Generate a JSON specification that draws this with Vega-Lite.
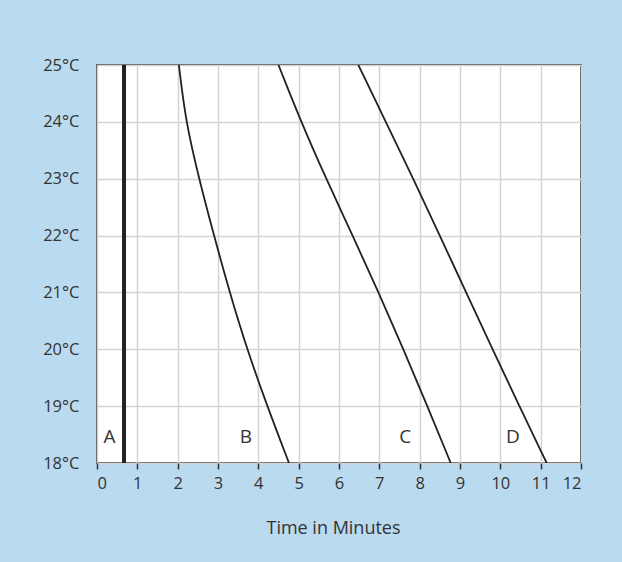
{
  "$schema": "https://vega.github.io/schema/vega-lite/v6.json",
  "width": 484,
  "height": 398,
  "autosize": {"type": "none"},
  "padding": {"left": 97, "top": 65, "right": 41, "bottom": 99},
  "background": "#badaf0",
  "config": {
    "font": "Open Sans",
    "view": {"fill": "white", "stroke": "#2a2a2a", "strokeWidth": 1.6},
    "axis": {"labelFont": "Open Sans", "titleFont": "Open Sans", "labelColor": "#333", "titleColor": "#333", "gridColor": "#d3d3d3", "gridWidth": 1.5, "domain": false}
  },
  "datasets": {
    "curves": [
      {"series": "A", "t": 0.67, "temp": 25},
      {"series": "A", "t": 0.67, "temp": 18},
      {"series": "B", "t": 2.03, "temp": 25},
      {"series": "B", "t": 2.2, "temp": 24},
      {"series": "B", "t": 2.53, "temp": 23},
      {"series": "B", "t": 2.9, "temp": 22},
      {"series": "B", "t": 3.29, "temp": 21},
      {"series": "B", "t": 3.72, "temp": 20},
      {"series": "B", "t": 4.22, "temp": 19},
      {"series": "B", "t": 4.76, "temp": 18},
      {"series": "C", "t": 4.5, "temp": 25},
      {"series": "C", "t": 5.06, "temp": 24},
      {"series": "C", "t": 5.68, "temp": 23},
      {"series": "C", "t": 6.34, "temp": 22},
      {"series": "C", "t": 6.98, "temp": 21},
      {"series": "C", "t": 7.6, "temp": 20},
      {"series": "C", "t": 8.19, "temp": 19},
      {"series": "C", "t": 8.77, "temp": 18},
      {"series": "D", "t": 6.48, "temp": 25},
      {"series": "D", "t": 7.16, "temp": 24},
      {"series": "D", "t": 7.84, "temp": 23},
      {"series": "D", "t": 8.5, "temp": 22},
      {"series": "D", "t": 9.15, "temp": 21},
      {"series": "D", "t": 9.81, "temp": 20},
      {"series": "D", "t": 10.47, "temp": 19},
      {"series": "D", "t": 11.15, "temp": 18}
    ],
    "labels": [
      {"label": "A", "t": 0.31, "temp": 18.45},
      {"label": "B", "t": 3.69, "temp": 18.45},
      {"label": "C", "t": 7.64, "temp": 18.45},
      {"label": "D", "t": 10.31, "temp": 18.45}
    ]
  },
  "layer": [
    {
      "data": {"name": "curves"},
      "transform": [{"filter": "datum.series !== 'A'"}],
      "mark": {"type": "line", "color": "#222", "strokeWidth": 1.8, "interpolate": "basis", "clip": true},
      "encoding": {
        "x": {
          "field": "t", "type": "quantitative",
          "scale": {"domain": [0, 12], "nice": false},
          "axis": {"values": [0,1,2,3,4,5,6,7,8,9,10,11,12], "title": "Time in Minutes", "titleX": 236, "titleFontSize": 18, "titleFontWeight": "normal", "titlePadding": 28, "labelFontSize": 16.5, "labelPadding": 6, "tickSize": 6, "tickColor": "#333", "tickWidth": 1.5, "grid": true}
        },
        "y": {
          "field": "temp", "type": "quantitative",
          "scale": {"domain": [18, 25], "nice": false},
          "axis": {"values": [18,19,20,21,22,23,24,25], "labelExpr": "datum.value + '°C'", "title": null, "labelFontSize": 16.5, "ticks": false, "labelPadding": 18, "grid": true}
        },
        "detail": {"field": "series"}
      }
    },
    {
      "data": {"name": "curves"},
      "transform": [{"filter": "datum.series === 'A'"}],
      "mark": {"type": "line", "color": "#222", "strokeWidth": 4},
      "encoding": {
        "x": {"field": "t", "type": "quantitative"},
        "y": {"field": "temp", "type": "quantitative"},
        "order": {"field": "temp"}
      }
    },
    {
      "data": {"name": "labels"},
      "mark": {"type": "text", "fontSize": 19, "color": "#333", "font": "Open Sans"},
      "encoding": {
        "x": {"field": "t", "type": "quantitative"},
        "y": {"field": "temp", "type": "quantitative"},
        "text": {"field": "label"}
      }
    }
  ]
}
